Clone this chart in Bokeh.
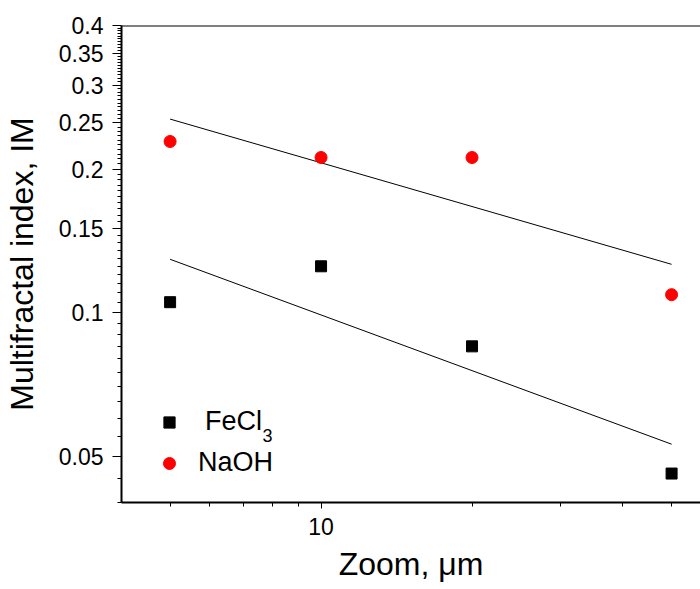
from bokeh.plotting import figure
from bokeh.models import (ColumnDataSource, FixedTicker, Legend, LegendItem, Label,
                          Span, Range1d, BasicTickFormatter)
from bokeh.embed import file_html
from bokeh.resources import INLINE

# ---- data ----
zoom_um = [5, 10, 20, 50]
fecl3_im = [0.1052, 0.1251, 0.0850, 0.0460]
naoh_im = [0.2285, 0.2115, 0.2115, 0.1091]

fit_zoom = [5, 50]
fecl3_fit = [0.1294, 0.0530]
naoh_fit = [0.2546, 0.1263]

x_major = [10]
x_major_labels = ["10"]
x_minor = [5, 6, 7, 8, 9, 20, 30, 40, 50]

y_major = [0.05, 0.1, 0.15, 0.2, 0.25, 0.3, 0.35, 0.4]
y_major_labels = ["0.05", "0.1", "0.15", "0.2", "0.25", "0.3", "0.35", "0.4"]
y_minor = [round(0.04 + 0.005 * i, 3) for i in range(73)]
y_minor = [v for v in y_minor if all(abs(v - m) > 1e-9 for m in y_major)]

FONT = "Liberation Sans"

pts = ColumnDataSource(dict(zoom=zoom_um, fecl3=fecl3_im, naoh=naoh_im))
fit = ColumnDataSource(dict(zoom=fit_zoom, fecl3=fecl3_fit, naoh=naoh_fit))

p = figure(width=700, height=589, x_axis_type="log", y_axis_type="log",
           x_range=Range1d(4, 57.1), y_range=Range1d(0.04, 0.4),
           output_backend="svg", toolbar_location=None,
           min_border_left=120, min_border_right=0, min_border_top=25,
           min_border_bottom=87)
p.grid.visible = False
p.outline_line_color = None
p.background_fill_color = "white"
p.border_fill_color = "white"

p.line("zoom", "fecl3", source=fit, line_color="black", line_width=1)
p.line("zoom", "naoh", source=fit, line_color="black", line_width=1)
r_fe = p.scatter("zoom", "fecl3", source=pts, marker="square", size=11,
                 fill_color="black", line_color="black")
r_na = p.scatter("zoom", "naoh", source=pts, marker="circle", size=12,
                 fill_color="red", line_color="red")

p.add_layout(Span(location=0.4, dimension="width", line_color="black", line_width=2))

# axes
for ax in (p.xaxis[0], p.yaxis[0]):
    ax.axis_line_width = 2
    ax.axis_line_color = "black"
    ax.major_tick_line_width = 1
    ax.minor_tick_line_width = 1
    ax.major_tick_in = 0
    ax.minor_tick_in = 0
    ax.major_label_text_font = FONT
    ax.major_label_text_font_size = "23px"
    ax.major_label_text_color = "black"
    ax.axis_label_text_font = FONT
    ax.axis_label_text_font_size = "32px"
    ax.axis_label_text_font_style = "normal"
    ax.axis_label_text_color = "black"
    ax.formatter = BasicTickFormatter()

p.xaxis.ticker = FixedTicker(ticks=x_major, minor_ticks=x_minor)
p.xaxis.major_label_overrides = dict(zip(x_major, x_major_labels))
p.xaxis.major_tick_out = 6
p.xaxis.minor_tick_out = 4
p.xaxis.major_label_standoff = 9
p.xaxis.axis_label = "Zoom, μm"
p.xaxis.axis_label_standoff = 8

p.yaxis.ticker = FixedTicker(ticks=y_major, minor_ticks=y_minor)
p.yaxis.major_label_overrides = dict(zip(y_major, y_major_labels))
p.yaxis.major_tick_out = 9
p.yaxis.minor_tick_out = 4
p.yaxis.major_label_standoff = 9
p.yaxis.axis_label = "Multifractal index, IM"
p.yaxis.axis_label_standoff = 16

# legends
common = dict(padding=0, margin=0, border_line_color=None, background_fill_alpha=0,
              label_text_font=FONT, label_text_font_size="27px",
              label_text_color="black", label_height=30, glyph_height=30, spacing=0)
leg1 = Legend(items=[LegendItem(label="FeCl", renderers=[r_fe])], location=(34, 65),
              glyph_width=28, label_standoff=22, **common)
leg2 = Legend(items=[LegendItem(label="NaOH", renderers=[r_na])], location=(33, 24),
              glyph_width=30, label_standoff=14, **common)
p.add_layout(leg1)
p.add_layout(leg2)
p.add_layout(Label(x=141, y=67, x_units="screen", y_units="screen", text="3",
                   text_font=FONT, text_font_size="18px", text_color="black",
                   text_baseline="alphabetic", text_align="left"))

open("out.html", "w").write(file_html(p, INLINE))
